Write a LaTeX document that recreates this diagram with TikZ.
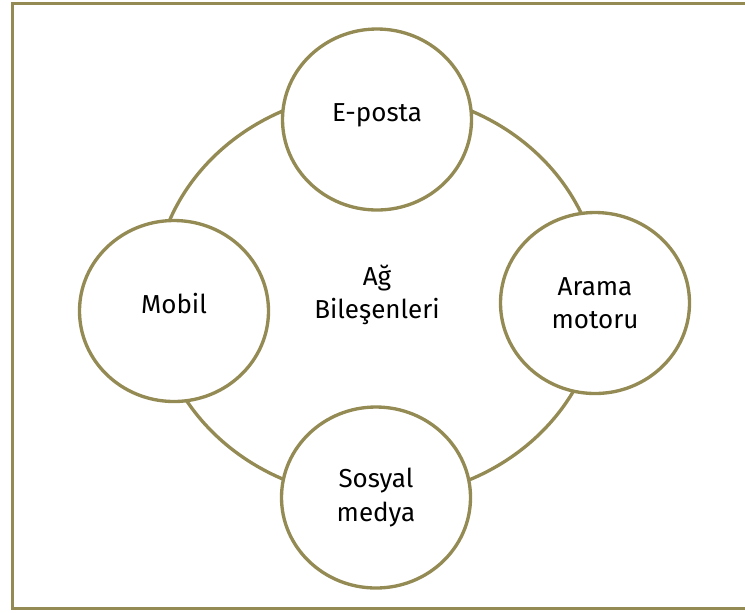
\documentclass[tikz,border=0pt]{standalone}
\usepackage{fontspec}
\setmainfont{Fira Sans}
\usepackage{tikz}
\usetikzlibrary{shapes}

\definecolor{khaki}{RGB}{148,138,84}

\begin{document}
\begin{tikzpicture}[x=0.75pt,y=-0.75pt,font=\fontsize{19.5}{25}\selectfont,
    bubble/.style={ellipse,draw=khaki,line width=2.5pt,fill=white,align=center,
      inner sep=0pt,minimum width=141.75pt,minimum height=135.75pt},
    oneline/.style={text height=3pt,text depth=0pt}]
      \useasboundingbox (0,0) rectangle (745,612);
      \draw[khaki,line width=2.5pt] (12.5,3.5) rectangle (752,608.5);
      \node[ellipse,draw=khaki,line width=2.5pt,align=center,
        minimum width=334.5pt,minimum height=304.5pt] at (377,295) (ring)
        {Ağ\\Bileşenleri};
      \node[bubble,oneline] at (377,119.5) (eposta) {E-posta};
      \node[bubble,oneline] at (174,311) (mobil) {Mobil};
      \node[bubble] at (595,303) (arama) {Arama\\motoru};
      \node[bubble] at (376,497.5) (sosyal) {Sosyal\\medya};
   \end{tikzpicture}
\end{document}
